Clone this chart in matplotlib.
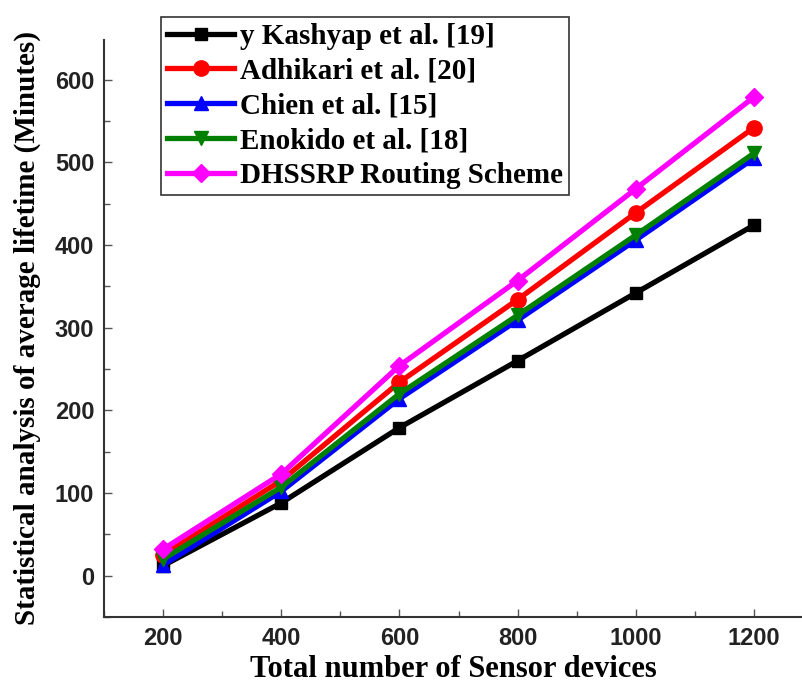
import matplotlib
matplotlib.use("Agg")
import matplotlib.pyplot as plt
from matplotlib.ticker import MultipleLocator

# data
devices = [200, 400, 600, 800, 1000, 1200]
kashyap = [12, 88, 179, 260, 342, 424]
adhikari = [25, 115, 234, 334, 439, 542]
chien = [13, 102, 214, 309, 406, 505]
enokido = [20, 107, 220, 315, 412, 511]
dhssrp = [32, 123, 254, 357, 468, 579]

labels = [
    "y Kashyap et al. [19]",
    "Adhikari et al. [20]",
    "Chien et al. [15]",
    "Enokido et al. [18]",
    "DHSSRP Routing Scheme",
]
series = [kashyap, adhikari, chien, enokido, dhssrp]
colors = ["black", "red", "blue", "green", "magenta"]
markers = ["s", "o", "^", "v", "D"]
msizes = [9, 11, 10, 10, 9]

fig = plt.figure(figsize=(8.03, 6.84), dpi=100)
ax = fig.add_axes([0.1295, 0.098, 0.8705, 0.8435])

for vals, lab, c, m, ms in zip(series, labels, colors, markers, msizes):
    ax.plot(devices, vals, color=c, marker=m, markersize=ms, linewidth=3.8,
            label=lab)

ax.set_xlim(100, 1283)
ax.set_ylim(-50, 648)
ax.set_xticks(devices)
ax.set_yticks([0, 100, 200, 300, 400, 500, 600])
ax.xaxis.set_minor_locator(MultipleLocator(100))
ax.yaxis.set_minor_locator(MultipleLocator(50))

ax.spines["top"].set_visible(False)
ax.spines["right"].set_visible(False)
ax.spines["left"].set_linewidth(1.5)
ax.spines["bottom"].set_linewidth(1.5)
ax.spines["left"].set_color("#333333")
ax.spines["bottom"].set_color("#333333")

ax.tick_params(which="both", direction="in", color="#555555", width=1)
ax.tick_params(which="major", length=6, pad=7)
ax.tick_params(which="minor", length=4)

for lbl in ax.get_xticklabels() + ax.get_yticklabels():
    lbl.set_fontfamily("Liberation Sans")
    lbl.set_fontweight("bold")
    lbl.set_fontsize(17)
    lbl.set_color("#222222")

ax.set_xlabel("Total number of Sensor devices", family="Liberation Serif",
              fontweight="bold", fontsize=22, labelpad=4)
ax.set_ylabel("Statistical analysis of average lifetime (Minutes)",
              family="Liberation Serif", fontweight="bold", fontsize=21,
              labelpad=10)

leg = ax.legend(loc="upper left", bbox_to_anchor=(0.082, 1.04),
                prop={"family": "Liberation Serif", "weight": "bold", "size": 21},
                frameon=True, fancybox=False, edgecolor="black",
                handlelength=2.3, handletextpad=0.2, borderpad=0.2,
                labelspacing=0.27, borderaxespad=0)
leg.get_frame().set_linewidth(1.2)

fig.savefig("out.png", dpi=100, facecolor="white")
